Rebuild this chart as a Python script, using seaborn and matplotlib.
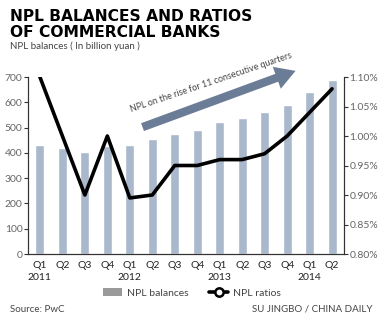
import matplotlib
matplotlib.use("Agg")
import matplotlib.pyplot as plt
import seaborn as sns
import numpy as np
import pandas as pd
from matplotlib.lines import Line2D
from matplotlib.patches import Patch

quarters = ["Q1", "Q2", "Q3", "Q4", "Q1", "Q2", "Q3", "Q4", "Q1", "Q2", "Q3", "Q4", "Q1", "Q2"]
years = ["2011", "", "", "", "2012", "", "", "", "2013", "", "", "", "2014", ""]
balances = [432, 419, 404, 427, 433, 455, 474, 490, 522, 537, 561, 589, 640, 690]
ratios = [1.10, 1.00, 0.90, 1.00, 0.895, 0.90, 0.95, 0.95, 0.96, 0.96, 0.97, 1.00, 1.04, 1.08]
left_ticks = [0, 100, 200, 300, 400, 500, 600, 700]
right_ticks = [0.80, 0.85, 0.90, 0.95, 1.00, 1.05, 1.10]

sns.set_theme(style="white")
plt.rcParams['font.family'] = ['Lato', 'DejaVu Sans']

BAR = "#aab8cb"
GRAY = "#666666"

df = pd.DataFrame({"idx": np.arange(len(quarters)), "balance": balances, "ratio": ratios})

fig = plt.figure(figsize=(3.84, 3.24), dpi=100)
ax = fig.add_axes([28/384, 70/324, 316/384, 177/324])

sns.barplot(data=df, x="idx", y="balance", color=BAR, width=0.4, saturation=1, ax=ax)
ax.set_xlim(-0.53, 13.53)
ax.set_ylim(0, 700)
ax.set_yticks(left_ticks)
ax.set_yticklabels([str(t) for t in left_ticks])
ax.set_xticks(range(len(quarters)))
ax.set_xticklabels([f"{q}\n{y}" for q, y in zip(quarters, years)], fontsize=7.5, color="#222222", linespacing=1.45)
ax.set_xlabel("")
ax.set_ylabel("")

ax2 = ax.twinx()
sns.lineplot(data=df, x="idx", y="ratio", color="black", linewidth=2.6, ax=ax2)
ax2.set_ylim(0.80, 1.10)
ax2.set_yticks(right_ticks)
ax2.set_yticklabels([f"{t:.2f}%" for t in right_ticks])
ax2.set_xlim(-0.53, 13.53)
ax2.set_ylabel("")

for a in (ax, ax2):
    for s in ["top"]:
        a.spines[s].set_visible(False)
    for s in ["left", "right", "bottom"]:
        a.spines[s].set_color("#333333")
        a.spines[s].set_linewidth(0.8)
    a.tick_params(axis="y", labelsize=7.5, labelcolor=GRAY, length=3, width=0.8, color="#333333", pad=1)
    a.tick_params(axis="x", length=0, pad=5)
ax.tick_params(axis="y", left=True)
ax2.tick_params(axis="y", right=True)

# arrow and annotation
ax.annotate("", xy=(11.49, 728), xytext=(4.45, 498), xycoords="data", textcoords="data",
            annotation_clip=False,
            arrowprops=dict(arrowstyle="simple,head_length=1.2,head_width=1.4,tail_width=0.5",
                            color="#6b7c96", lw=0))
ax.text(7.6, 680, "NPL on the rise for 11 consecutive quarters", rotation=18.7,
        ha="center", va="center", fontsize=6.4, color="#444444", rotation_mode="anchor")

# titles
fig.text(10/384, 1 - 9/324, "NPL BALANCES AND RATIOS\nOF COMMERCIAL BANKS", ha="left", va="top",
         fontsize=11.2, fontweight="heavy", family="DejaVu Sans", color="black", linespacing=1.1)
fig.text(10/384, 1 - 46/324, "NPL balances ( In billion yuan )", ha="left", va="center",
         fontsize=7, color="#444444")

# legend
handles = [Patch(facecolor="#9a9a9a", edgecolor="none", label="NPL balances"),
           Line2D([0], [0], color="black", lw=2.6, marker="o", markersize=6,
                  markerfacecolor="white", markeredgecolor="black", markeredgewidth=1.8,
                  label="NPL ratios")]
fig.legend(handles=handles, loc="center", bbox_to_anchor=(0.5, 1 - 293/324), ncol=2,
           frameon=False, fontsize=7.5, handlelength=1.8, columnspacing=2.0, handletextpad=0.5,
           labelcolor="#444444")

fig.text(10/384, 1 - 309/324, "Source: PwC", ha="left", va="center", fontsize=7, color="#444444")
fig.text(373/384, 1 - 309/324, "SU JINGBO / CHINA DAILY", ha="right", va="center", fontsize=7, color="#444444")

fig.savefig("out.png", dpi=100)
